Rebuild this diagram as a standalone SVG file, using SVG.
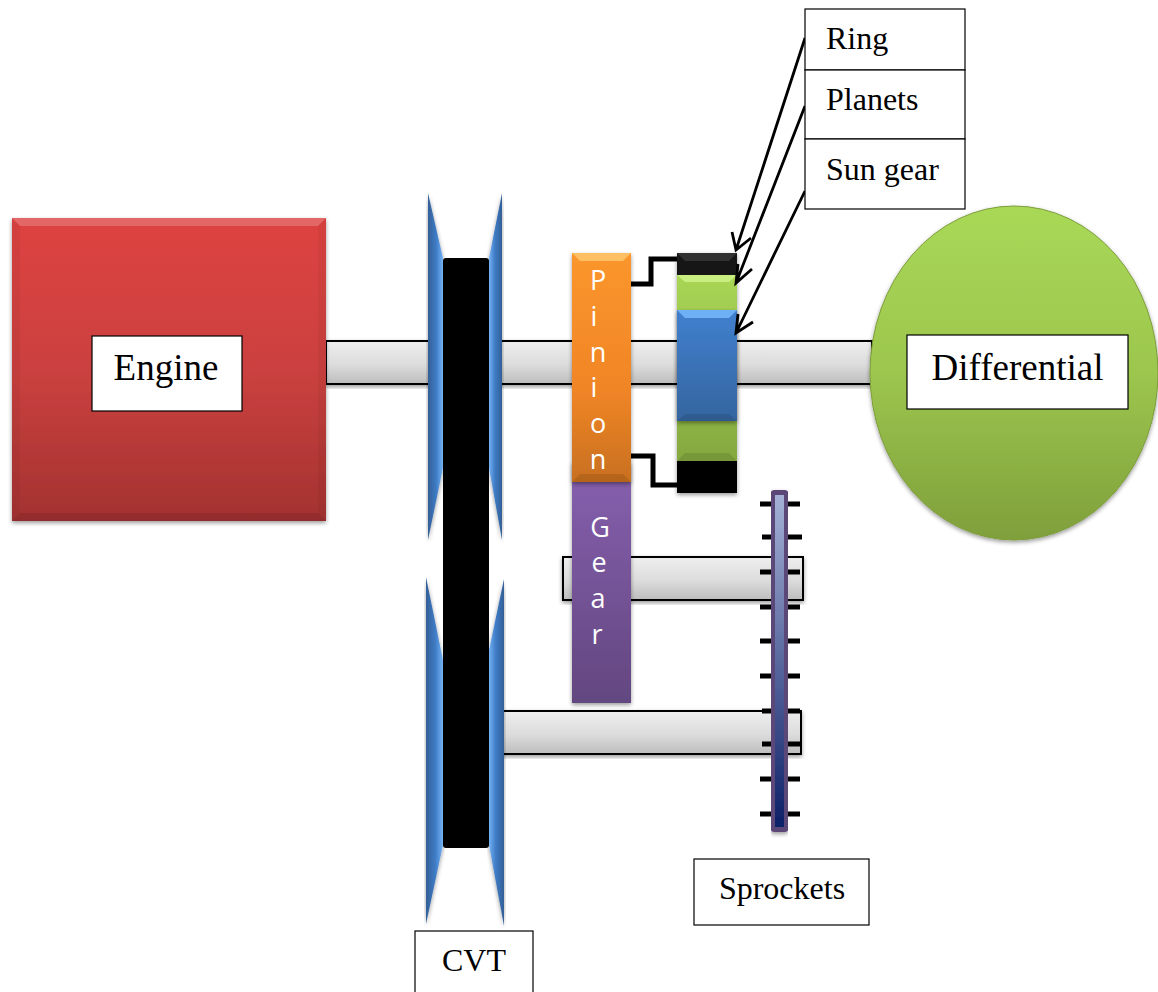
<svg xmlns="http://www.w3.org/2000/svg" width="1158" height="992" viewBox="0 0 1158 992">
<style>
text{font-family:"Liberation Serif","Times New Roman",serif;fill:#000}
.lab{font-size:32px}
.big{font-size:37px}
.v{font-family:"Open Sans","Noto Sans",sans-serif;font-size:27px;fill:#fff;text-anchor:middle}
.box{fill:#fff;stroke:#000;stroke-width:1.2}
.shaft{fill:url(#gShaft);stroke:#000;stroke-width:2;filter:url(#sh)}
.hi{fill:#fff;opacity:.2}
.lo{fill:#000;opacity:.1}
.side{fill:#000;opacity:.04}
.tick{stroke:#000;stroke-width:5;fill:none}
.link{stroke:#000;stroke-width:5;fill:none}
.arr{stroke:#000;stroke-width:2.8;fill:none}
</style>
<defs>
<filter id="sh" x="-10%" y="-10%" width="120%" height="120%"><feDropShadow dx="0" dy="2" stdDeviation="2" flood-color="#000" flood-opacity=".4"/></filter>
<linearGradient id="gShaft" x1="0" y1="0" x2="0" y2="1"><stop offset="0" stop-color="#eee"/><stop offset=".55" stop-color="#dcdcdc"/><stop offset="1" stop-color="#bdbdbd"/></linearGradient>
<linearGradient id="gRed" x1="0" y1="0" x2="0" y2="1"><stop offset="0" stop-color="#dd4341"/><stop offset=".5" stop-color="#cb413f"/><stop offset="1" stop-color="#a33230"/></linearGradient>
<linearGradient id="gOrange" x1="0" y1="0" x2="0" y2="1"><stop offset="0" stop-color="#fb962d"/><stop offset=".6" stop-color="#f08526"/><stop offset="1" stop-color="#c8701f"/></linearGradient>
<linearGradient id="gPurple" x1="0" y1="0" x2="0" y2="1"><stop offset="0" stop-color="#8760af"/><stop offset="1" stop-color="#634780"/></linearGradient>
<linearGradient id="gGreen" x1="0" y1="0" x2="0" y2="1"><stop offset="0" stop-color="#a9d655"/><stop offset="1" stop-color="#85a83f"/></linearGradient>
<linearGradient id="gBlue" x1="0" y1="0" x2="0" y2="1"><stop offset="0" stop-color="#4180cf"/><stop offset="1" stop-color="#34659f"/></linearGradient>
<linearGradient id="gBlack" x1="0" y1="0" x2="0" y2="1"><stop offset="0" stop-color="#141414"/><stop offset="1" stop-color="#000"/></linearGradient>
<linearGradient id="gPulleyL" x1="0" y1="0" x2="1" y2="0"><stop offset="0" stop-color="#335f96"/><stop offset=".55" stop-color="#3f7cc6"/><stop offset="1" stop-color="#74b2f5"/></linearGradient>
<linearGradient id="gPulleyR" x1="1" y1="0" x2="0" y2="0"><stop offset="0" stop-color="#335f96"/><stop offset=".55" stop-color="#3f7cc6"/><stop offset="1" stop-color="#74b2f5"/></linearGradient>
<linearGradient id="gBar" x1="0" y1="0" x2="0" y2="1"><stop offset="0" stop-color="#a6b2d6"/><stop offset="1" stop-color="#0c1f66"/></linearGradient>
<linearGradient id="gDiff" x1="0" y1="0" x2="0" y2="1"><stop offset="0" stop-color="#a9d856"/><stop offset=".5" stop-color="#9cc64e"/><stop offset="1" stop-color="#7f9f3b"/></linearGradient>
</defs>

<g id="shaft-main"><rect class="shaft" x="326" y="341" width="546" height="43"/></g>
<g id="shaft-gear"><rect class="shaft" x="563" y="557" width="240" height="43"/></g>
<g id="shaft-lower"><rect class="shaft" x="495" y="711" width="306" height="43"/></g>

<g id="engine">
<rect x="12" y="218" width="314" height="303" fill="url(#gRed)" filter="url(#sh)"/>
<polygon class="hi" points="12,218 326,218 318,226 20,226"/>
<polygon class="lo" points="12,521 326,521 318,513 20,513"/>
<polygon class="side" points="12,218 20,226 20,513 12,521"/>
<polygon class="side" points="326,218 318,226 318,513 326,521"/>
<rect class="box" x="92" y="336" width="150" height="75"/>
<text class="big" x="166" y="380" text-anchor="middle">Engine</text>
</g>

<g id="differential">
<ellipse cx="1014" cy="373" rx="144" ry="167" fill="url(#gDiff)" stroke="#7d9d3a" stroke-width="1" filter="url(#sh)"/>
<rect class="box" x="907" y="335" width="221" height="74"/>
<text class="big" x="1017.500" y="380" text-anchor="middle">Differential</text>
</g>

<g id="cvt">
<path d="M428,193 L443,258 L443,468 L428,540 Z" fill="url(#gPulleyL)" filter="url(#sh)"/>
<path d="M502,193 L489,258 L489,468 L502,540 Z" fill="url(#gPulleyR)" filter="url(#sh)"/>
<path d="M426,577 L443,660 L443,845 L426,924 Z" fill="url(#gPulleyL)" filter="url(#sh)"/>
<path d="M504,579 L489,650 L489,845 L504,926 Z" fill="url(#gPulleyR)" filter="url(#sh)"/>
<rect x="443" y="258" width="46" height="590" rx="3" fill="#000"/>
</g>

<g id="gear">
<rect x="572" y="462" width="59" height="241" fill="url(#gPurple)" filter="url(#sh)"/>
<text class="v" x="600" y="537">G</text>
<text class="v" x="599" y="572">e</text>
<text class="v" x="598" y="608">a</text>
<text class="v" x="597" y="644">r</text>
</g>
<g id="pinion">
<rect x="572" y="253" width="59" height="229" fill="url(#gOrange)" filter="url(#sh)"/>
<polygon fill="#ffd27a" opacity=".7" points="572,253 631,253 623,261 580,261"/>
<polygon class="lo" points="572,482 631,482 623,474 580,474"/>
<text class="v" x="598" y="290">P</text>
<text class="v" x="594" y="326">i</text>
<text class="v" x="598" y="362">n</text>
<text class="v" x="594" y="397">i</text>
<text class="v" x="598" y="433">o</text>
<text class="v" x="598" y="469">n</text>
</g>

<g id="ring">
<rect x="677" y="253" width="60" height="240" fill="url(#gBlack)" filter="url(#sh)"/>
<polygon fill="#444" points="677,253 737,253 729,261 685,261" opacity=".6"/>
</g>
<g id="planets">
<rect x="677" y="275" width="60" height="186" fill="url(#gGreen)"/>
<polygon fill="#c8ee80" points="677,275 737,275 729,282 685,282"/>
<polygon class="lo" points="677,461 737,461 729,453 685,453"/>
</g>
<g id="sun-gear">
<rect x="677" y="310" width="60" height="111" fill="url(#gBlue)" filter="url(#sh)"/>
<polygon fill="#6db0f5" points="677,310 737,310 729,318 685,318"/>
<polygon class="lo" points="677,421 737,421 729,414 685,414"/>
</g>

<g id="sprockets">
<path class="tick" d="M760,504H800M762,537H802M760,572H800M760,607H800M760,641H800M760,676H800M762,711H800M762,744H800M760,779H800M760,814H800"/>
<rect x="772.500" y="492.500" width="14" height="337" rx="2" fill="url(#gBar)" stroke="#5b4679" stroke-width="5" filter="url(#sh)"/>
</g>

<g id="connectors">
<path class="link" d="M631,284H651V259H677"/>
<path class="link" d="M631,456H653V485H677"/>
<path class="arr" d="M805,38L736,250M732,232L736,250L751,238"/>
<path class="arr" d="M805,106L736,283M752,269L736,283L738,264"/>
<path class="arr" d="M805,191L736,333M753,322L736,333L738,314"/>
</g>

<g id="label-ring"><rect class="box" x="805" y="9" width="160" height="61"/><text class="lab" x="826" y="49">Ring</text></g>
<g id="label-planets"><rect class="box" x="805" y="70" width="160" height="69"/><text class="lab" x="826" y="110">Planets</text></g>
<g id="label-sun"><rect class="box" x="805" y="139" width="160" height="70"/><text class="lab" x="826" y="180">Sun gear</text></g>
<g id="label-sprockets"><rect class="box" x="694" y="859" width="175" height="66"/><text class="lab" x="782" y="899" text-anchor="middle">Sprockets</text></g>
<g id="label-cvt"><rect class="box" x="415" y="931" width="118" height="70"/><text class="lab" x="474" y="971" text-anchor="middle">CVT</text></g>
</svg>
